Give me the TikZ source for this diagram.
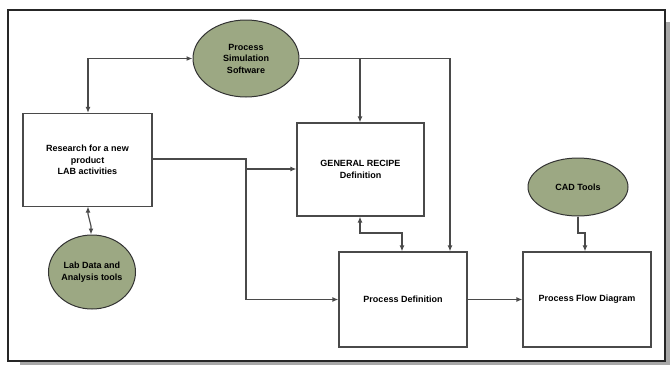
\documentclass[tikz,border=0pt]{standalone}
\usepackage{fontspec}
\setmainfont{Liberation Sans}
\usetikzlibrary{arrows.meta,shapes.geometric}
\definecolor{sage}{HTML}{9CA883}
\definecolor{linegray}{HTML}{4A4A4A}
\definecolor{shadowgray}{HTML}{A8A8A8}
\begin{document}
\begin{tikzpicture}[x=1pt,y=-1pt,
  every node/.style={font=\bfseries\fontsize{9}{11.5}\selectfont, align=center, inner sep=0pt},
  procbox/.style={draw=linegray, line width=1.2pt, fill=white},
  tool/.style={draw=black!80, line width=1pt, fill=sage, ellipse},
  conn/.style={draw=linegray, line width=1.2pt},
  tip/.style={-{Latex[length=6pt,width=5pt]}},
  bothtips/.style={{Latex[length=6pt,width=5pt]}-{Latex[length=6pt,width=5pt]}}]
  % page area and frame with drop shadow
  \useasboundingbox (0,0) rectangle (670,365);
  \fill[white] (0,0) rectangle (670,365);
  \fill[shadowgray] (20,22) rectangle (670,365);
  \draw[fill=white, draw=black!85, line width=1.2pt] (8,10) rectangle (665,361);

  % boxes
  \node[procbox, minimum width=129pt, minimum height=93pt] (research) at (87.5,160)
    {Research for a new\\product\\LAB activities};
  \node[procbox, minimum width=127pt, minimum height=93pt] (recipe) at (360.5,169.5)
    {GENERAL RECIPE\\Definition};
  \node[procbox, minimum width=128pt, minimum height=95pt] (procdef) at (403,299.5)
    {Process Definition};
  \node[procbox, minimum width=128pt, minimum height=95pt] (pfd) at (587,299.5)
    {Process Flow Diagram};

  % tool ellipses
  \node[tool, minimum width=106pt, minimum height=77pt] (sim) at (246,58.5)
    {Process\\Simulation\\Software};
  \node[tool, minimum width=87pt, minimum height=74pt] (lab) at (92,272)
    {Lab Data and\\Analysis tools};
  \node[tool, minimum width=100pt, minimum height=58pt] (cad) at (578,187)
    {CAD Tools};

  % junction points
  \coordinate (split) at (246,169);
  \coordinate (simout) at (360,58.5);

  % research <-> simulation software
  \draw[conn, bothtips] (research.north -| 88,0) |- (sim.west);
  % research <-> lab data tools
  \draw[conn, bothtips] (88,206.5) -- (88,214) -- (91,226) -- (lab.north -| 91,0);
  % research -> recipe and process definition
  \draw[conn] (research.east |- 0,159) -| (split);
  \draw[conn, tip] (split) -- (recipe.west |- split);
  \draw[conn, tip] (split) |- (procdef.west);
  % simulation software -> recipe and process definition
  \draw[conn] (sim.east) -- (simout);
  \draw[conn, tip] (simout) -- (recipe.north -| simout);
  \draw[conn, tip] (simout) -| (procdef.north -| 450,0);
  % recipe <-> process definition
  \draw[conn, bothtips] (recipe.south -| 360,0) -- (360,233) -| (procdef.north -| 402,0);
  % process definition -> flow diagram
  \draw[conn, tip] (procdef.east) -- (pfd.west);
  % CAD tools -> flow diagram
  \draw[conn, tip] (cad.south) -- (578,233) -| (pfd.north -| 585,0);
\end{tikzpicture}
\end{document}
